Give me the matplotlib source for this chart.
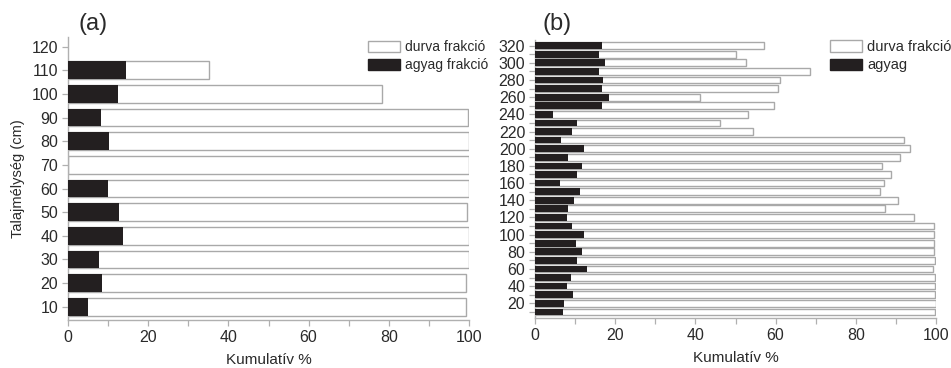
import matplotlib
matplotlib.use("Agg")
import matplotlib.pyplot as plt
from matplotlib.patches import Patch
from matplotlib.ticker import MultipleLocator

plt.rcParams['font.family'] = ['Liberation Sans', 'DejaVu Sans']

# Panel (a): depth (cm), clay fraction and cumulative (coarse) fraction in %
depth_a = [10, 20, 30, 40, 50, 60, 70, 80, 90, 100, 110]
agyag_a = [4.9, 8.6, 7.8, 13.6, 12.7, 9.9, 0.0, 10.2, 8.2, 12.5, 14.5]
durva_a = [99.3, 99.3, 99.9, 99.9, 99.4, 100.0, 99.9, 99.9, 99.7, 78.4, 35.2]
yticks_a = [10, 20, 30, 40, 50, 60, 70, 80, 90, 100, 110, 120]
legend_a = ["durva frakció", "agyag frakció"]

# Panel (b)
depth_b = [10, 20, 30, 40, 50, 60, 70, 80, 90, 100, 110, 120, 130, 140, 150, 160,
           170, 180, 190, 200, 210, 220, 230, 240, 250, 260, 270, 280, 290, 300, 310, 320]
agyag_b = [7.0, 7.2, 9.5, 8.1, 9.1, 13.0, 10.4, 11.6, 10.1, 12.2, 9.3, 8.1, 8.3, 9.7, 11.1, 6.3,
           10.4, 11.6, 8.3, 12.3, 6.5, 9.3, 10.4, 4.4, 16.6, 18.4, 16.8, 16.9, 16.0, 17.5, 16.0, 16.6]
durva_b = [99.8, 100.0, 99.7, 99.8, 99.8, 99.3, 99.7, 99.6, 99.6, 99.6, 99.4, 94.4, 87.4, 90.6, 86.1, 87.0,
           88.9, 86.6, 90.9, 93.6, 91.9, 54.4, 46.2, 53.1, 59.7, 41.1, 60.7, 61.2, 68.7, 52.5, 50.1, 57.2]
yticks_b = list(range(20, 321, 20))
legend_b = ["durva frakció", "agyag"]

xticks = [0, 20, 40, 60, 80, 100]

DARK = "#231f20"
EDGE = "#a9a9a9"
SPINE = "#b0b0b0"
TEXT = "#2a2a2a"
FS = 11.5

W, H = 951, 368
fig = plt.figure(figsize=(W / 100, H / 100), dpi=100)


def px_axes(left, top, right, bottom):
    return fig.add_axes([left / W, 1 - bottom / H, (right - left) / W, (bottom - top) / H])


def style(ax):
    for s in ("top", "right"):
        ax.spines[s].set_visible(False)
    for s in ("left", "bottom"):
        ax.spines[s].set_color(SPINE)
        ax.spines[s].set_linewidth(1.0)
    ax.tick_params(axis="both", which="both", direction="out", color=SPINE,
                   labelcolor=TEXT, labelsize=FS, width=0.9)
    ax.tick_params(axis="both", which="major", length=4, pad=3)
    ax.tick_params(axis="both", which="minor", length=4)
    ax.set_xlim(0, 100)
    ax.set_xticks(xticks)
    ax.xaxis.set_minor_locator(MultipleLocator(10))
    ax.set_xlabel("Kumulatív %", fontsize=11, color=TEXT, labelpad=6)


def draw(ax, depth, durva, agyag, height):
    ax.barh(depth, durva, height=height, color="white", edgecolor=EDGE, linewidth=1.0, zorder=2)
    ax.barh(depth, agyag, height=height, color=DARK, linewidth=0, zorder=3)


# (a)
ax1 = px_axes(68, 37, 469, 320)
draw(ax1, depth_a, durva_a, agyag_a, 7.5)
style(ax1)
ax1.set_ylim(4.4, 124.1)
ax1.set_yticks(yticks_a)
ax1.set_ylabel("Talajmélység (cm)", fontsize=10.5, color=TEXT, labelpad=5)
fig.text(78 / W, 1 - 24 / H, "(a)", fontsize=17, color=TEXT, va="center", ha="left")

# (b)
ax2 = px_axes(535, 40, 936, 318)
draw(ax2, depth_b, durva_b, agyag_b, 7.8)
style(ax2)
ax2.set_ylim(2.9, 326.6)
ax2.set_yticks(yticks_b)
ax2.yaxis.set_minor_locator(MultipleLocator(10))
fig.text(543 / W, 1 - 24 / H, "(b)", fontsize=17, color=TEXT, va="center", ha="left")


def add_legend(labels, x, y, fs, hl):
    handles = [Patch(facecolor="white", edgecolor=EDGE, linewidth=1.0),
               Patch(facecolor=DARK, edgecolor=DARK)]
    fig.legend(handles, labels, loc="upper left", bbox_to_anchor=(x / W, 1 - y / H),
               bbox_transform=fig.transFigure, frameon=False, borderpad=0,
               borderaxespad=0, handlelength=hl, handleheight=0.85,
               handletextpad=0.35, labelspacing=0.3, fontsize=fs,
               labelcolor=TEXT)


add_legend(legend_a, 368, 40, 10, 2.3)
add_legend(legend_b, 830, 40, 10.5, 2.2)

fig.savefig("out.png", dpi=100, facecolor="white")
